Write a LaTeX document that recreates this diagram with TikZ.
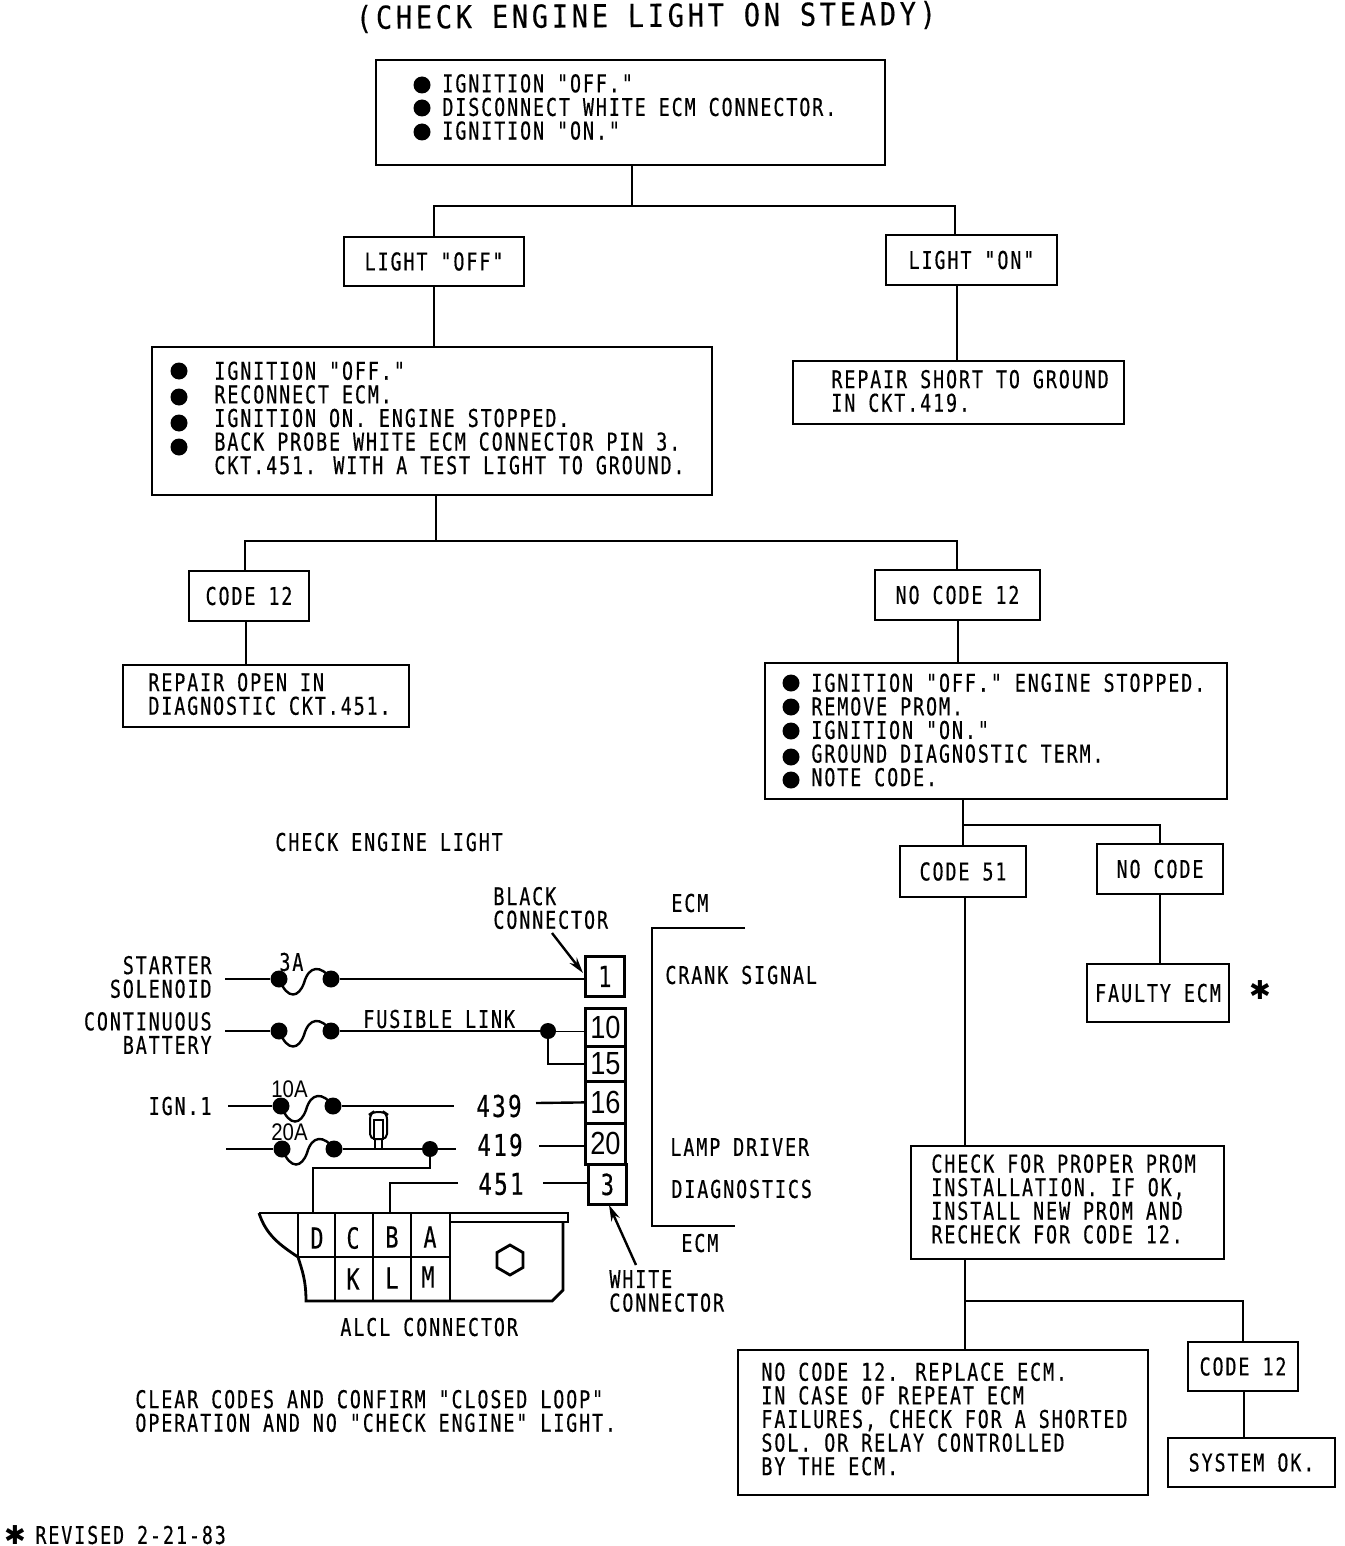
\documentclass[tikz,border=0pt]{standalone}
\usepackage{fontspec}
\newfontfamily\plotfont[FakeStretch=0.75,LetterSpace=7.7,FakeBold=0.4]{DejaVu Sans Mono}
\newfontfamily\titlefont[FakeStretch=0.85,LetterSpace=12,FakeBold=0.3]{DejaVu Sans Mono}
\newfontfamily\numfont[FakeStretch=0.85]{Liberation Sans}
\newfontfamily\symfont{DejaVu Sans}
\usetikzlibrary{positioning,arrows.meta,fit,shapes.geometric}
\tikzset{
  node-box/.style={draw,line width=1.4pt,inner sep=0pt},
  node-lbl/.style={inner sep=0pt,font=\plotfont\fontsize{12.25}{11.8}\selectfont},
  node-text/.style={node-lbl,align=left,anchor=west},
  node-pin/.style={inner sep=0pt,font=\plotfont\fontsize{14.5}{15}\selectfont},
  node-num/.style={inner sep=0pt,font=\plotfont\fontsize{15}{15}\selectfont},
  node-amp/.style={node-text,font=\numfont\fontsize{12}{12}\selectfont},
  node-star/.style={inner sep=0pt,font=\symfont\fontsize{13}{13}\selectfont},
  node-dot/.style={circle,fill=black,inner sep=0pt,minimum size=8.5pt},
  node-tap/.style={circle,fill=black,inner sep=0pt,minimum size=8pt},
  line/.style={line width=1.4pt},
  wire/.style={line width=1.2pt},
  arrow/.style={-{Stealth[length=8pt,width=4.5pt]},line width=1.2pt},
  fuse/.pic={
    \node[node-dot] (-a) at (0,0) {};
    \node[node-dot] (-b) at (52,0) {};
    \draw[wire] (-a.center) .. controls (9,22) and (20,18) .. (25,4) .. controls (30,-14) and (42,-14) .. (-b.center);
  },
}
\begin{document}
\begin{tikzpicture}[x=0.5pt,y=-0.5pt]
  \useasboundingbox (0,0) rectangle (1344,1546);
  \node[inner sep=0pt,font=\titlefont\fontsize{15.8}{15.8}\selectfont,rotate=0.4] (title) at (646,17) {(CHECK ENGINE LIGHT ON STEADY)};

  % flow chart
  \node[node-box,fit={(376,60) (885,165)}] (start) {};
  \node[node-text] (starttxt) at (442,107) {IGNITION "OFF."\\DISCONNECT WHITE ECM CONNECTOR.\\IGNITION "ON."};
  \node[node-box,fit={(344,237) (524,286)},label={[node-lbl]center:LIGHT "OFF"}] (lightoff) {};
  \node[node-box,fit={(886,235) (1057,285)},label={[node-lbl]center:LIGHT "ON"}] (lighton) {};
  \node[node-box,fit={(152,347) (712,495)}] (probe) {};
  \node[node-text] (probetxt) at (214,418) {IGNITION "OFF."\\RECONNECT ECM.\\IGNITION ON. ENGINE STOPPED.\\BACK PROBE WHITE ECM CONNECTOR PIN 3.\\CKT.451. WITH A TEST LIGHT TO GROUND.};
  \node[node-box,fit={(793,361) (1124,424)}] (short) {};
  \node[node-text] (shorttxt) at (831,391) {REPAIR SHORT TO GROUND\\IN CKT.419.};
  \node[node-box,fit={(189,571) (309,621)},label={[node-lbl]center:CODE 12}] (code) {};
  \node[node-box,fit={(875,570) (1040,620)},label={[node-lbl]center:NO CODE 12}] (nocode) {};
  \node[node-box,fit={(123,665) (409,727)}] (open) {};
  \node[node-text] (opentxt) at (148,694) {REPAIR OPEN IN\\DIAGNOSTIC CKT.451.};
  \node[node-box,fit={(765,663) (1227,799)}] (prom) {};
  \node[node-text] (promtxt) at (811,730) {IGNITION "OFF." ENGINE STOPPED.\\REMOVE PROM.\\IGNITION "ON."\\GROUND DIAGNOSTIC TERM.\\NOTE CODE.};
  \node[node-box,fit={(900,846) (1026,897)},label={[node-lbl]center:CODE 51}] (fiftyone) {};
  \node[node-box,fit={(1097,844) (1223,894)},label={[node-lbl]center:NO CODE}] (none) {};
  \node[node-box,fit={(1087,964) (1229,1022)},label={[node-lbl]center:FAULTY ECM}] (faulty) {};
  \node[node-star] (faultystar) at (1260,990) {✱};
  \node[node-box,fit={(911,1146) (1224,1259)}] (install) {};
  \node[node-text] (installtxt) at (931,1199) {CHECK FOR PROPER PROM\\INSTALLATION. IF OK,\\INSTALL NEW PROM AND\\RECHECK FOR CODE 12.};
  \node[node-box,fit={(738,1350) (1148,1495)}] (replace) {};
  \node[node-text] (replacetxt) at (761,1419) {NO CODE 12. REPLACE ECM.\\IN CASE OF REPEAT ECM\\FAILURES, CHECK FOR A SHORTED\\SOL. OR RELAY CONTROLLED\\BY THE ECM.};
  \node[node-box,fit={(1188,1342) (1298,1391)},label={[node-lbl]center:CODE 12}] (codeagain) {};
  \node[node-box,fit={(1168,1438) (1335,1487)},label={[node-lbl]center:SYSTEM OK.}] (systemok) {};

  \foreach \y in {85,108,132} \node[node-dot] at (422,\y) {};
  \foreach \y in {371,397,423,447} \node[node-dot] at (179,\y) {};
  \foreach \y in {683,707,731,757,780} \node[node-dot] at (791,\y) {};

  \coordinate (j1) at (632,206);
  \coordinate (j2) at (436,541);
  \coordinate (j3) at (963,825);
  \coordinate (j4) at (965,1301);
  \draw[line] (j1 |- start.south) -- (j1);
  \draw[line] (lightoff.north) |- (j1) -| (955,235);
  \draw[line] (lightoff.south) -- (lightoff.south |- probe.north);
  \draw[line] (957,285) -- (957,361);
  \draw[line] (j2 |- probe.south) -- (j2);
  \draw[line] (245,571) |- (j2) -| (957,570);
  \draw[line] (246,621) -- (246,665);
  \draw[line] (958,620) -- (958,663);
  \draw[line] (j3 |- prom.south) -- (j3 |- fiftyone.north);
  \draw[line] (j3) -| (none.north);
  \draw[line] (none.south) -- (none.south |- faulty.north);
  \draw[line] (j4 |- fiftyone.south) -- (j4 |- install.north);
  \draw[line] (j4 |- install.south) -- (j4 |- replace.north);
  \draw[line] (j4) -| (codeagain.north);
  \draw[line] (1244,1391) -- (1244,1438);

  % wiring
  \node[node-text] (lamplbl) at (275,842) {CHECK ENGINE LIGHT};
  \node[node-text] (blacklbl) at (493,908) {BLACK\\CONNECTOR};
  \node[node-text,align=right,anchor=east] (starter) at (212,977) {STARTER\\SOLENOID};
  \node[node-text,align=right,anchor=east] (battery) at (212,1033) {CONTINUOUS\\BATTERY};
  \node[node-text,anchor=east] (ign) at (212,1106) {IGN.1};
  \node[node-text] (fusible) at (363,1019) {FUSIBLE LINK};
  \node[node-text] (threea) at (279,962) {3A};
  \node[node-amp] (tena) at (271,1089) {10A};
  \node[node-amp] (twentya) at (271,1132) {20A};

  \node[draw,line,minimum width=19.5pt,minimum height=20pt,anchor=north west,node-pin] (pinone) at (584,955) {1};
  \foreach \name/\txt/\top/\hgt in {pinten/10/1007/19,pinfift/15/1045/17.5,pinsix/16/1080/21,pintwenty/20/1122/20.5}
    \node[draw,line,inner sep=0pt,minimum width=20pt,minimum height=\hgt pt,anchor=north west,font=\numfont\fontsize{16}{16}\selectfont] (\name) at (584,\top) {\txt};
  \node[draw,line,minimum width=19pt,minimum height=20pt,anchor=north west,node-pin] (pinthree) at (587,1163) {3};

  \pic (fa) at (279,979) {fuse};
  \pic (fb) at (279,1031) {fuse};
  \pic (fc) at (281,1106) {fuse};
  \pic (fd) at (282,1149) {fuse};
  \coordinate (s1) at (225,979);
  \coordinate (s2) at (225,1031);
  \coordinate (s3) at (228,1106);
  \coordinate (s4) at (226,1149);
  \draw[wire] (s1) -- (fa-a);
  \draw[wire] (s2) -- (fb-a);
  \draw[wire] (s3) -- (fc-a);
  \draw[wire] (s4) -- (fd-a);
  \draw[wire] (fa-b) -- (fa-b -| pinone.west);

  \node[node-tap] (tap) at (548,1031) {};
  \draw[wire] (fb-b) -- (tap);
  \draw[line width=.5pt] (tap) -- (tap -| pinten.west);
  \draw[wire] (tap) |- (pinfift.west);

  \node[node-num] (wa) at (499,1106) {439};
  \node[node-num] (wb) at (500,1145) {419};
  \node[node-num] (wc) at (501,1184) {451};
  \coordinate (ea) at (454,1106);
  \coordinate (eb) at (456,1149);
  \coordinate (ec) at (458,1183);
  \draw[wire] (fc-b) -- (ea);
  \draw[wire] (536,1103) -- (pinsix.west);
  \node[node-tap] (tapb) at (430,1149) {};
  \draw[wire] (fd-b) -- (tapb);
  \draw[wire] (tapb) -- (eb);
  \draw[wire] (539,1146) -- (539,1146 -| pintwenty.west);
  \draw[wire] (ec) -| (390,1213);
  \draw[wire] (543,1183) -- (543,1183 -| pinthree.west);
  \draw[wire] (tapb) |- (313,1168) -- (313,1213);

  % lamp
  \draw[line width=1pt,rounded corners=2.5pt] (370,1139) -- (370,1114) -- (373,1112) -- (384,1112) -- (387,1114) -- (387,1139) -- cycle;
  \draw[line width=1pt] (374,1120) rectangle (383,1139);
  \draw[wire] (375,1139) -- (375,1149);
  \draw[wire] (382,1139) -- (382,1149);

  \draw[arrow] (552,933) -- (583,973);
  \draw[arrow] (636,1265) -- (609,1205);
  \node[node-text] (whitelbl) at (609,1291) {WHITE\\CONNECTOR};

  % ALCL connector
  \draw[line] (259,1213) -- (568,1213) -- (568,1222) -- (450,1222);
  \draw[line] (259,1213) .. controls (266,1235) and (280,1245) .. (298,1257) .. controls (302,1270) and (306,1280) .. (306,1301) -- (552,1301) -- (563,1290) -- (563,1222);
  \draw[line] (298,1213) -- (298,1257) -- (450,1257);
  \foreach \x in {335,373,411,450} \draw[line] (\x,1213) -- (\x,1301);
  \foreach \x/\y/\t in {317/1238/D,353/1238/C,392/1237/B,430/1237/A,353/1279/K,392/1278/L,428/1277/M}
    \node[node-pin] at (\x,\y) {\t};
  \node[draw,line,regular polygon,regular polygon sides=6,regular polygon rotate=30,inner sep=0pt,minimum size=15pt] (hex) at (510,1260) {};
  \node[node-text] (alcl) at (340,1327) {ALCL CONNECTOR};

  % ECM
  \draw[line] (745,928) -- (652,928) -- (652,1226) -- (735,1226);
  \node[node-text] (ecmtop) at (671,903) {ECM};
  \node[node-text] (crank) at (665,975) {CRANK SIGNAL};
  \node[node-text] (driver) at (670,1147) {LAMP DRIVER};
  \node[node-text] (diag) at (671,1189) {DIAGNOSTICS};
  \node[node-text] (ecmbot) at (681,1243) {ECM};

  \node[node-text] (clear) at (135,1411) {CLEAR CODES AND CONFIRM "CLOSED LOOP"\\OPERATION AND NO "CHECK ENGINE" LIGHT.};
  \node[node-star] (revstar) at (15,1535) {✱};
  \node[node-text] (revised) at (35,1535) {REVISED 2-21-83};
\end{tikzpicture}
\end{document}
